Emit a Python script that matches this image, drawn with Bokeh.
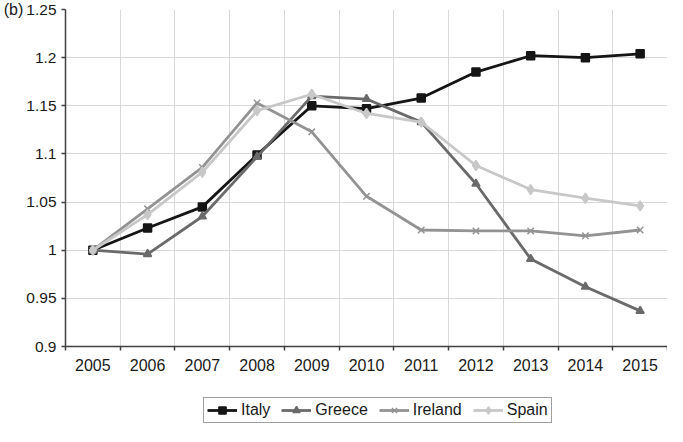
from bokeh.plotting import figure
from bokeh.models import (FixedTicker, CustomJSTickFormatter, Legend, LegendItem)
from bokeh.layouts import column
from bokeh.embed import file_html
from bokeh.resources import INLINE

years = [2005, 2006, 2007, 2008, 2009, 2010, 2011, 2012, 2013, 2014, 2015]
italy   = [1.000, 1.023, 1.045, 1.099, 1.150, 1.147, 1.158, 1.185, 1.202, 1.200, 1.204]
greece  = [1.000, 0.996, 1.035, 1.097, 1.160, 1.157, 1.133, 1.069, 0.991, 0.962, 0.937]
ireland = [1.000, 1.043, 1.086, 1.153, 1.123, 1.056, 1.021, 1.020, 1.020, 1.015, 1.021]
spain   = [1.000, 1.037, 1.081, 1.145, 1.162, 1.142, 1.133, 1.088, 1.063, 1.054, 1.046]
y_ticks = [0.9, 0.95, 1.0, 1.05, 1.1, 1.15, 1.2, 1.25]
panel_label = "(b)"

FONT = "Liberation Sans"

boundaries = [y - 0.5 for y in years] + [years[-1] + 0.5]

p = figure(width=667, frame_height=337, output_backend="svg", toolbar_location=None,
           x_range=(years[0] - 0.5, years[-1] + 0.5), y_range=(y_ticks[0], y_ticks[-1]),
           min_border_left=59, min_border_right=0, min_border_top=9, min_border_bottom=0)
p.outline_line_color = None
p.background_fill_color = "white"
p.border_fill_color = "white"

# axes
p.xaxis.ticker = FixedTicker(ticks=years, minor_ticks=boundaries)
p.xaxis.major_tick_out = 0
p.xaxis.major_tick_in = 0
p.xaxis.minor_tick_out = 4
p.xaxis.minor_tick_in = 0
p.xaxis.minor_tick_line_color = "#404040"
p.xaxis.minor_tick_line_width = 1.5
p.xaxis.major_label_standoff = 8
p.xaxis.major_label_text_font_size = "16px"
p.yaxis.ticker = FixedTicker(ticks=y_ticks)
p.yaxis.formatter = CustomJSTickFormatter(code="return String(Math.round(tick*100)/100)")
p.yaxis.major_tick_out = 4
p.yaxis.major_tick_in = 0
p.yaxis.minor_tick_line_color = None
p.yaxis.major_label_standoff = 5
p.yaxis.major_label_text_font_size = "15.5px"
p.yaxis.axis_label = panel_label
p.yaxis.axis_label_orientation = "horizontal"
p.yaxis.axis_label_align = "end"
p.yaxis.axis_label_standoff = 0
p.yaxis.axis_label_text_font = FONT
p.yaxis.axis_label_text_font_size = "16px"
p.yaxis.axis_label_text_font_style = "normal"
p.yaxis.axis_label_text_color = "#1a1a1a"
for ax in (p.xaxis, p.yaxis):
    ax.axis_line_color = "#404040"
    ax.axis_line_width = 1.5
    ax.major_tick_line_color = "#404040"
    ax.major_tick_line_width = 1.5
    ax.major_label_text_font = FONT
    ax.major_label_text_color = "#1a1a1a"

p.xgrid.ticker = FixedTicker(ticks=boundaries)
p.xgrid.grid_line_color = "#d9d9d9"
p.ygrid.grid_line_color = "#d9d9d9"

series = [
    ("Italy", italy, "#151515", "square", 8),
    ("Greece", greece, "#6a6a6a", "triangle", 8),
    ("Ireland", ireland, "#939393", "x", 9),
    ("Spain", spain, "#c8c8c8", "diamond", 10),
]

# legend strip below the chart (its own ranges keep the series out of view)
lg = figure(width=667, height=53, output_backend="svg", toolbar_location=None,
            x_range=(0, 1), y_range=(0, 1),
            x_axis_type=None, y_axis_type=None, min_border=0)
lg.outline_line_color = None
lg.background_fill_color = "white"
lg.border_fill_color = "white"
lg.xgrid.visible = False
lg.ygrid.visible = False

items = []
for name, vals, col, marker, sz in series:
    p.line(years, vals, line_color=col, line_width=2.8)
    p.scatter(years, vals, marker=marker, size=sz, fill_color=col, line_color=col,
              line_width=1.5)
    k1 = lg.line(years, vals, line_color=col, line_width=2.8)
    k2 = lg.scatter(years, vals, marker=marker, size=sz - 1, fill_color=col, line_color=col,
                    line_width=1.5)
    items.append(LegendItem(label=name, renderers=[k1, k2]))

legend = Legend(items=items, orientation="horizontal", location=(138, 3),
                glyph_width=30, glyph_height=18, label_height=18, label_standoff=4,
                spacing=11, padding=3, margin=0, border_line_color="#404040",
                border_line_width=1.2, label_text_font=FONT, label_text_font_size="16px",
                label_text_color="#1a1a1a", background_fill_alpha=1)
lg.add_layout(legend, "center")

open("out.html", "w").write(file_html(column(p, lg, spacing=0), INLINE))
